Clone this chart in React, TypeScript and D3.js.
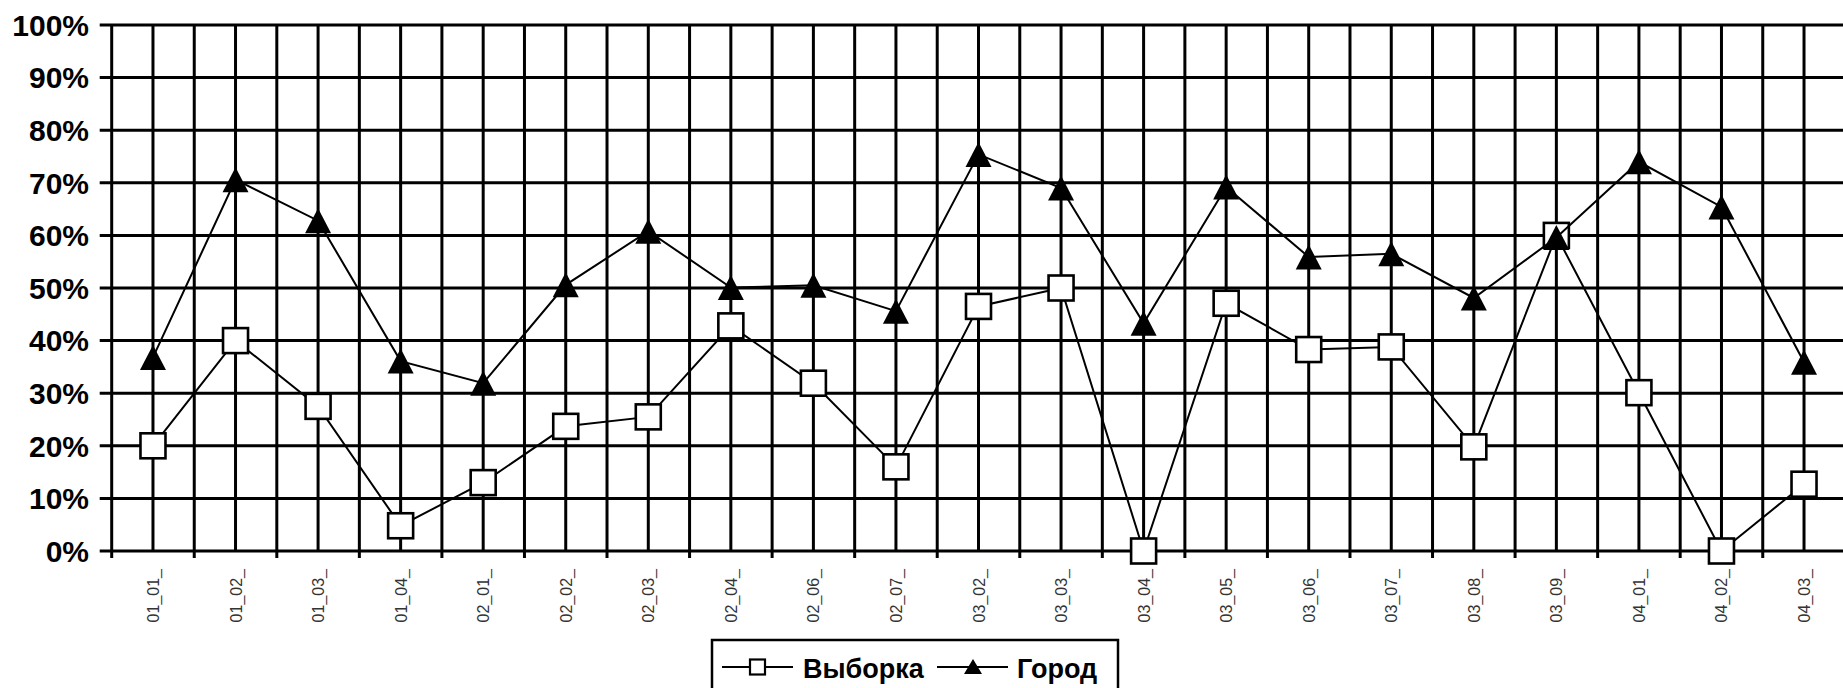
import React, { useRef, useEffect } from 'react';
import * as d3 from 'd3';

// categories along the x axis
const categories: string[] = [
  '01_01_', '01_02_', '01_03_', '01_04_', '02_01_', '02_02_', '02_03_',
  '02_04_', '02_06_', '02_07_', '03_02_', '03_03_', '03_04_', '03_05_',
  '03_06_', '03_07_', '03_08_', '03_09_', '04_01_', '04_02_', '04_03_',
];

// series values, in percent
const vyborka: number[] = [
  20, 40, 27.5, 4.8, 13, 23.7, 25.5, 42.8, 31.9, 16, 46.5,
  50, 0, 47.1, 38.3, 38.8, 19.8, 60, 30.1, 0, 12.7,
];
const gorod: number[] = [
  36.8, 70.6, 62.8, 36.1, 31.9, 50.6, 60.8, 50.1, 50.5, 45.6, 75.4,
  69, 43.3, 69.2, 55.9, 56.5, 48.1, 59.6, 74, 65.4, 35.9,
];

const yTicks: number[] = [0, 10, 20, 30, 40, 50, 60, 70, 80, 90, 100];
const seriesNames: string[] = ['Выборка', 'Город'];

const W = 1843;
const H = 688;
const FONT = 'Arial, "Liberation Sans", sans-serif';

const App = () => {
  const svgRef = useRef<SVGSVGElement | null>(null);

  useEffect(() => {
    const svg = d3.select(svgRef.current);
    svg.selectAll('*').remove();

    const left = 111.7;
    const right = 1845.3;
    const top = 25;
    const bottom = 551;

    const x = d3.scaleBand<string>().domain(categories).range([left, right]).padding(0);
    const cx = (c: string) => (x(c) as number) + x.bandwidth() / 2;
    const y = d3.scaleLinear().domain([0, 100]).range([bottom, top]);

    const grid = svg.append('g').attr('stroke', '#000').attr('stroke-width', 3);

    // horizontal gridlines (with small tick to the left)
    grid.selectAll('line.h')
      .data(yTicks)
      .join('line')
      .attr('x1', left - 12)
      .attr('x2', W)
      .attr('y1', d => y(d))
      .attr('y2', d => y(d));

    // category boundary lines, with tick below the axis
    const bounds = categories.map(c => x(c) as number).concat([right]);
    grid.selectAll('line.b')
      .data(bounds)
      .join('line')
      .attr('x1', d => d)
      .attr('x2', d => d)
      .attr('y1', top)
      .attr('y2', bottom + 7);

    // category centre lines
    grid.selectAll('line.c')
      .data(categories)
      .join('line')
      .attr('x1', d => cx(d))
      .attr('x2', d => cx(d))
      .attr('y1', top)
      .attr('y2', bottom);

    // y labels
    svg.append('g')
      .selectAll('text')
      .data(yTicks)
      .join('text')
      .attr('x', 89)
      .attr('y', d => y(d))
      .attr('dy', '0.36em')
      .attr('text-anchor', 'end')
      .attr('font-family', FONT)
      .attr('font-weight', 'bold')
      .attr('font-size', 30)
      .attr('fill', '#000')
      .text(d => d + '%');

    // x labels, rotated
    svg.append('g')
      .selectAll('text')
      .data(categories)
      .join('text')
      .attr('transform', d => `translate(${cx(d) + 6},569) rotate(-90)`)
      .attr('text-anchor', 'end')
      .attr('font-family', FONT)
      .attr('font-size', 16)
      .attr('fill', '#333')
      .text(d => d);

    const line = d3.line<number>()
      .x((_, i) => cx(categories[i]))
      .y(d => y(d));

    // Выборка: line + open squares
    svg.append('path')
      .datum(vyborka)
      .attr('fill', 'none')
      .attr('stroke', '#000')
      .attr('stroke-width', 2)
      .attr('d', line);
    svg.append('g')
      .selectAll('rect')
      .data(vyborka)
      .join('rect')
      .attr('x', (_, i) => cx(categories[i]) - 12.5)
      .attr('y', d => y(d) - 12.5)
      .attr('width', 25)
      .attr('height', 25)
      .attr('fill', '#fff')
      .attr('stroke', '#000')
      .attr('stroke-width', 2.6);

    // Город: line + filled triangles
    const tri = d3.symbol().type(d3.symbolTriangle).size(300);
    svg.append('path')
      .datum(gorod)
      .attr('fill', 'none')
      .attr('stroke', '#000')
      .attr('stroke-width', 2)
      .attr('d', line);
    svg.append('g')
      .selectAll('path')
      .data(gorod)
      .join('path')
      .attr('d', 'M0,-12.5L13,12.5L-13,12.5Z')
      .attr('transform', (d, i) => `translate(${cx(categories[i])},${y(d)})`)
      .attr('fill', '#000');

    // legend
    const lg = svg.append('g');
    lg.append('rect')
      .attr('x', 712)
      .attr('y', 640)
      .attr('width', 406)
      .attr('height', 70)
      .attr('fill', '#fff')
      .attr('stroke', '#000')
      .attr('stroke-width', 2.5);

    const ly = 667;
    lg.append('line').attr('x1', 722).attr('x2', 793).attr('y1', ly).attr('y2', ly)
      .attr('stroke', '#000').attr('stroke-width', 2);
    lg.append('rect').attr('x', 750).attr('y', ly - 7.5).attr('width', 15).attr('height', 15)
      .attr('fill', '#fff').attr('stroke', '#000').attr('stroke-width', 2.2);
    lg.append('text').attr('x', 803).attr('y', 678)
      .attr('font-family', FONT).attr('font-weight', 'bold').attr('font-size', 27)
      .text(seriesNames[0]);

    lg.append('line').attr('x1', 937).attr('x2', 1008).attr('y1', ly).attr('y2', ly)
      .attr('stroke', '#000').attr('stroke-width', 2);
    lg.append('path').attr('d', 'M0,-8L9,7L-9,7Z')
      .attr('transform', `translate(973,${ly})`).attr('fill', '#000');
    lg.append('text').attr('x', 1017).attr('y', 678)
      .attr('font-family', FONT).attr('font-weight', 'bold').attr('font-size', 27)
      .text(seriesNames[1]);
    void tri;
  }, []);

  return (
    <svg
      ref={svgRef}
      width={W}
      height={H}
      style={{ position: 'absolute', left: 0, top: 0, background: '#fff' }}
    />
  );
};

export default App;
